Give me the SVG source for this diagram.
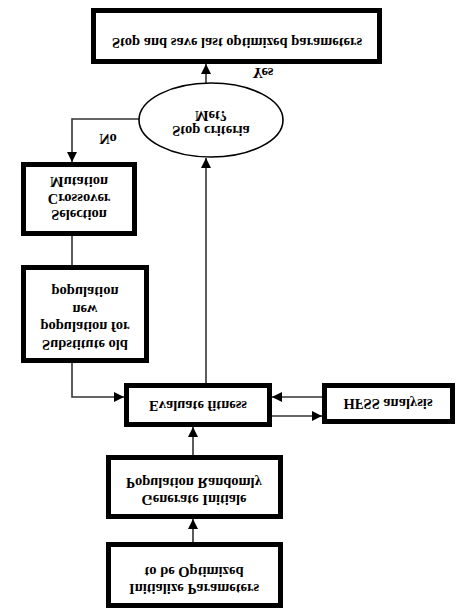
<svg xmlns="http://www.w3.org/2000/svg" width="474" height="616" viewBox="0 0 474 616">
<defs>
<style>
.box{fill:#fff;stroke:#000;stroke-width:5}
.ell{fill:#fff;stroke:#000;stroke-width:1.6}
.ln{fill:none;stroke:#333;stroke-width:1.6}
text{font-family:"Liberation Serif","Times New Roman",serif;font-weight:bold;font-size:14.5px;text-anchor:middle;fill:#000}
</style>
<marker id="ah" markerUnits="userSpaceOnUse" markerWidth="10" markerHeight="10" viewBox="0 0 10 10" refX="10" refY="5" orient="auto">
<path d="M0,0 L10,5 L0,10 z" fill="#000"/>
</marker>
</defs>
<rect width="474" height="616" fill="#fff"/>
<g id="connectors">
<line class="ln" x1="206" y1="83" x2="206" y2="64" marker-end="url(#ah)"/>
<polyline class="ln" points="139,119 72,119 72,162" marker-end="url(#ah)"/>
<line class="ln" x1="72" y1="236" x2="72" y2="265"/>
<polyline class="ln" points="72,363 72,397 124,397" marker-end="url(#ah)"/>
<line class="ln" x1="206" y1="383" x2="206" y2="158" marker-end="url(#ah)"/>
<line class="ln" x1="322" y1="397" x2="272" y2="397" marker-end="url(#ah)"/>
<line class="ln" x1="272" y1="416" x2="322" y2="416" marker-end="url(#ah)"/>
<line class="ln" x1="193" y1="455" x2="193" y2="427" marker-end="url(#ah)"/>
<line class="ln" x1="193" y1="542" x2="193" y2="519" marker-end="url(#ah)"/>
<text transform="matrix(1 0 0 -1 263 73)" y="5">Yes</text>
<text transform="matrix(1 0 0 -1 108 139)" y="5">No</text>
</g>
<g id="stop">
<rect class="box" x="93.5" y="10.5" width="286" height="51"/>
<text transform="matrix(1 0 0 -1 237 43)" y="5">Stop and save last optimized parameters</text>
</g>
<g id="criteria">
<ellipse class="ell" cx="211" cy="120" rx="72" ry="37"/>
<text transform="matrix(1 0 0 -1 211 116)" y="5">Met?</text>
<text transform="matrix(1 0 0 -1 211 131)" y="5">Stop criteria</text>
</g>
<g id="ga">
<rect class="box" x="23.5" y="164.5" width="111" height="69"/>
<text transform="matrix(1 0 0 -1 79 182)" y="5">Mutation</text>
<text transform="matrix(1 0 0 -1 79 199)" y="5">Crossover</text>
<text transform="matrix(1 0 0 -1 79 215)" y="5">Selection</text>
</g>
<g id="substitute">
<rect class="box" x="23.5" y="267.5" width="123" height="93"/>
<text transform="matrix(1 0 0 -1 85 292)" y="5">population</text>
<text transform="matrix(1 0 0 -1 85 310)" y="5">new</text>
<text transform="matrix(1 0 0 -1 85 327)" y="5">population for</text>
<text transform="matrix(1 0 0 -1 85 345)" y="5">Substitute old</text>
</g>
<g id="evaluate">
<rect class="box" x="126.5" y="385.5" width="143" height="39"/>
<text transform="matrix(1 0 0 -1 198 406)" y="5">Evaluate fitness</text>
</g>
<g id="hfss">
<rect class="box" x="324.5" y="385.5" width="128" height="36"/>
<text transform="matrix(1 0 0 -1 388 404)" y="5">HFSS analysis</text>
</g>
<g id="generate">
<rect class="box" x="108.5" y="457.5" width="172" height="59"/>
<text transform="matrix(1 0 0 -1 194 483)" y="5">Population Randomly</text>
<text transform="matrix(1 0 0 -1 194 500)" y="5">Generate Initiale</text>
</g>
<g id="initialize">
<rect class="box" x="108.5" y="544.5" width="172" height="61"/>
<text transform="matrix(1 0 0 -1 194 572)" y="5">to be Optimized</text>
<text transform="matrix(1 0 0 -1 194 589)" y="5">Initialize Parameters</text>
</g>
</svg>
